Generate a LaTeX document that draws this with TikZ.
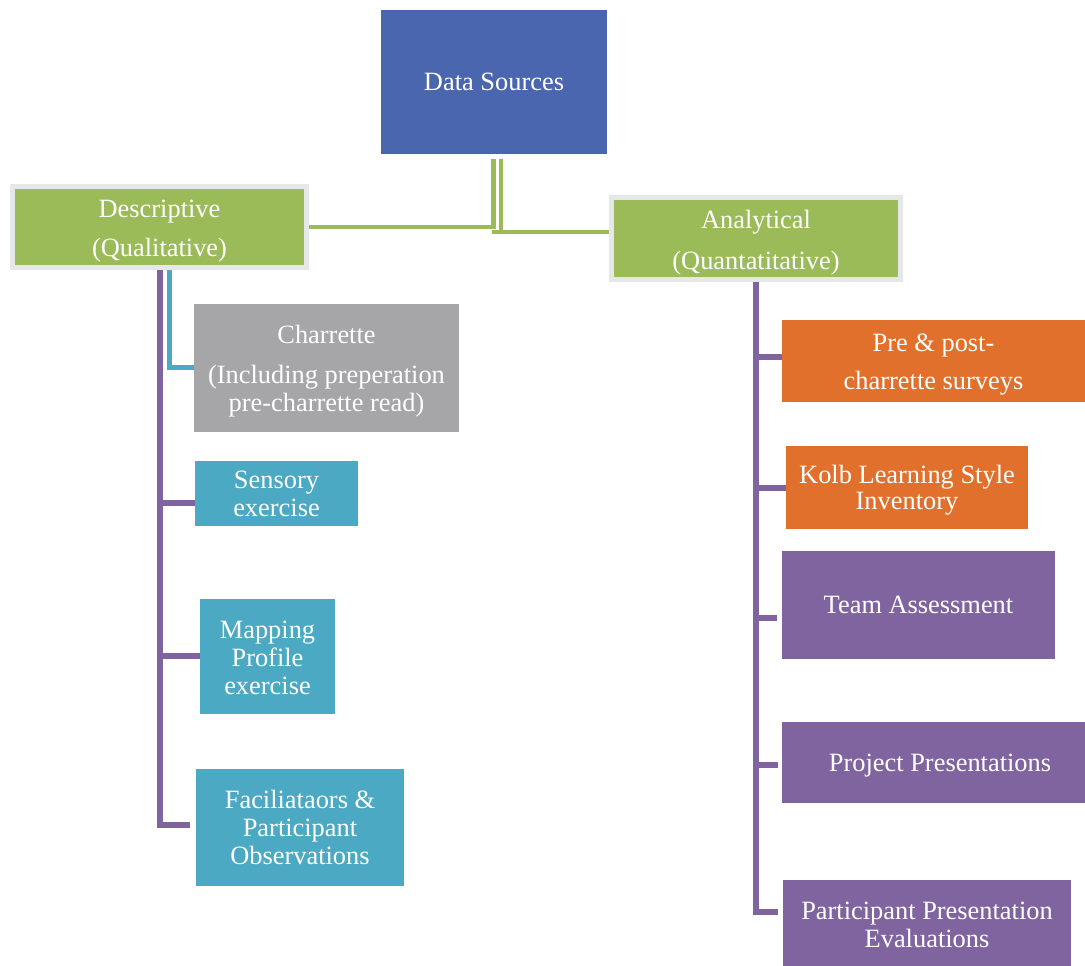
\documentclass[tikz,border=0pt]{standalone}
\usepackage{fontspec}
\setmainfont{Liberation Serif}
\definecolor{dsblue}{HTML}{4A66AE}
\definecolor{catgreen}{HTML}{9BBB59}
\definecolor{rimgray}{HTML}{E6E7E8}
\definecolor{boxgray}{HTML}{A6A6A8}
\definecolor{boxteal}{HTML}{4BA9C3}
\definecolor{boxorange}{HTML}{E0702B}
\definecolor{boxpurple}{HTML}{8064A0}
\begin{document}
\begin{tikzpicture}[x=1pt,y=-1pt,
  box/.style={inner sep=0pt, text=white, align=center,
    font=\fontsize{26.4}{28}\selectfont},
  caption/.style={box},
  catbox/.style={box, fill=catgreen, draw=rimgray, line width=5pt},
  greenlink/.style={draw=catgreen, line width=4.5pt},
  purplelink/.style={draw=boxpurple, line width=6pt},
  teallink/.style={draw=boxteal, line width=5pt}]
\useasboundingbox (0,0) rectangle (1085,966);

% top node
\node[box, fill=dsblue, minimum width=226pt, minimum height=143pt] (ds) at (494,82) {Data Sources};

% the two categories
\node[catbox, minimum width=294pt, minimum height=81pt] (desc) at (159.5,227) {};
\node[caption] (descT) at ([yshift=-4pt]desc.center) {Descriptive\\[11pt](Qualitative)};
\node[catbox, minimum width=289pt, minimum height=82pt] (anal) at (756,238.5) {};
\node[caption] (analT) at ([yshift=-4pt]anal.center) {Analytical\\[13pt](Quantatitative)};

% descriptive sources
\node[box, fill=boxgray, minimum width=265pt, minimum height=128pt] (charr) at (326.5,368) {};
\node[caption] (charrT) at ([yshift=-3pt]charr.center) {Charrette\\[12pt](Including preperation\\pre-charrette read)};
\node[box, fill=boxteal, minimum width=163pt, minimum height=65pt] (sens) at (276.5,493.5) {Sensory\\exercise};
\node[box, fill=boxteal, minimum width=135pt, minimum height=115pt] (mapp) at (267.5,656.5) {};
\node[caption] (mappT) at ([yshift=-1pt]mapp.center) {Mapping\\Profile\\exercise};
\node[box, fill=boxteal, minimum width=208pt, minimum height=117pt] (facil) at (300,827.5) {Faciliataors \&\\Participant\\Observations};

% analytical sources
\node[box, fill=boxorange, minimum width=303pt, minimum height=82pt] (surv) at (933.5,361) {};
\node[caption] (survT) at ([yshift=-4pt]surv.center) {Pre \& post-\\[10pt]charrette surveys};
\node[box, fill=boxorange, minimum width=242pt, minimum height=83pt] (kolb) at (907,487.5) {};
\node[caption] (kolbT) at ([yshift=-3pt]kolb.center) {Kolb Learning Style\\[-2pt]Inventory};
\node[box, fill=boxpurple, minimum width=273pt, minimum height=108pt] (team) at (918.5,605) {Team Assessment};
\node[box, fill=boxpurple, minimum width=303pt, minimum height=81pt] (proj) at (933.5,762.5) {};
\node[caption] (projT) at ([xshift=6.5pt,yshift=-3pt]proj.center) {Project Presentations};
\node[box, fill=boxpurple, minimum width=288pt, minimum height=86pt] (peval) at (927,923) {};
\node[caption] (pevalT) at ([yshift=-2pt]peval.center) {Participant Presentation\\Evaluations};

% links from the top node
\coordinate (dsL) at (493.5,159);
\coordinate (dsR) at (501,159);
\draw[greenlink] (dsL) |- (desc.east |- 0,227);
\draw[greenlink] (dsR) -- (501,232) (491.5,232) -- (anal.west |- 0,232);

% descriptive trunk
\coordinate (dTop) at (159.7,270);
\coordinate (dEnd) at (190,825);
\draw[purplelink] (dTop) |- (dEnd);
\draw[purplelink] (159.7,503.3) -- (sens.west |- 0,503.3);
\draw[purplelink] (159.7,655.7) -- (mapp.west |- 0,655.7);
\coordinate (tTop) at (169.2,270);
\draw[teallink] (tTop) |- (charr.west |- 0,367.7);

% analytical trunk
\coordinate (aTop) at (756.3,282);
\coordinate (aEnd) at (778,912);
\draw[purplelink] (aTop) |- (aEnd);
\draw[purplelink] (756.3,356.7) -- (surv.west |- 0,356.7);
\draw[purplelink] (756.3,487.7) -- (kolb.west |- 0,487.7);
\draw[purplelink] (756.3,617.7) -- (777,617.7);
\draw[purplelink] (756.3,765) -- (778,765);
\end{tikzpicture}
\end{document}
